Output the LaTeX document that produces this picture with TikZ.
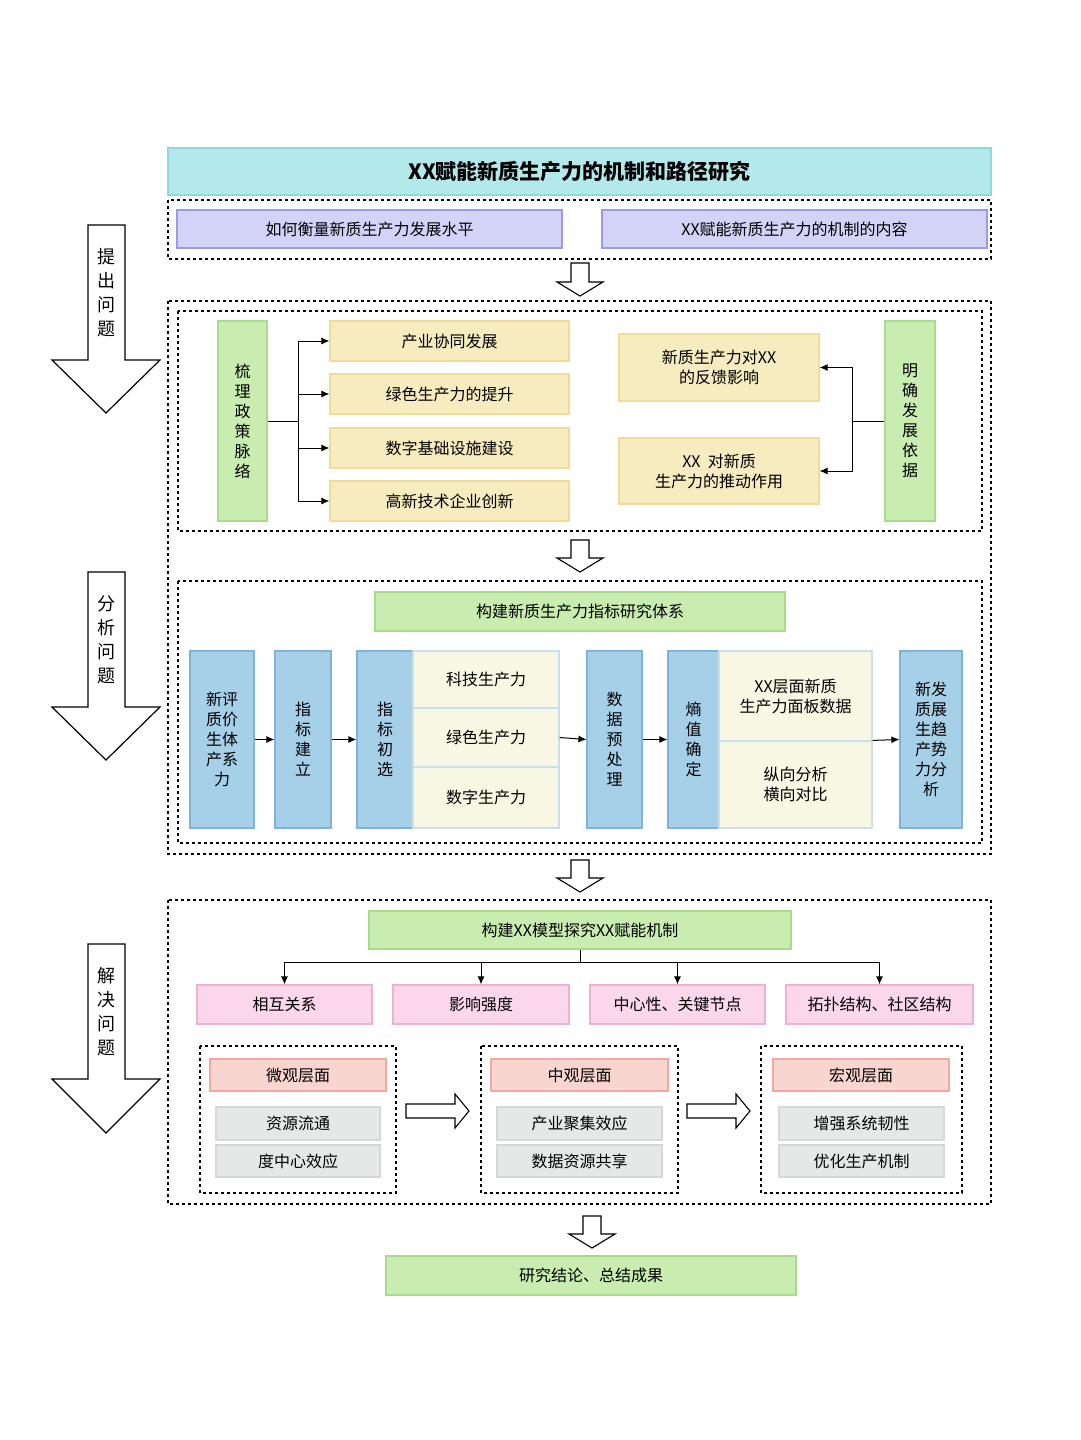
\documentclass[tikz,border=0pt]{standalone}
\usepackage{fontspec}
\newfontfamily\cjk{Noto Sans CJK SC}
\usetikzlibrary{arrows.meta}
\usetikzlibrary{positioning}

\definecolor{cyanf}{HTML}{B3E9EA}\definecolor{cyand}{HTML}{8FD9DC}
\definecolor{purf}{HTML}{D3D3F7}\definecolor{purd}{HTML}{9A9AE8}
\definecolor{grnf}{HTML}{C9ECB0}\definecolor{grnd}{HTML}{A8DC8A}
\definecolor{yelf}{HTML}{F6ECBF}\definecolor{yeld}{HTML}{EDDD99}
\definecolor{bluf}{HTML}{A6CFE8}\definecolor{blud}{HTML}{7FB3D9}
\definecolor{crmf}{HTML}{F8F7E4}\definecolor{crmd}{HTML}{C9DFF0}
\definecolor{pnkf}{HTML}{FAD7EA}\definecolor{pnkd}{HTML}{EEB0D3}
\definecolor{salf}{HTML}{F9D5D0}\definecolor{sald}{HTML}{F0A8A0}
\definecolor{gryf}{HTML}{E6E8E8}\definecolor{gryd}{HTML}{D6D8D8}

\tikzset{
  box/.style={draw, line width=1.2pt, inner sep=0pt, align=center, font=\cjk\fontsize{16}{20}\selectfont},
  dbox/.style={draw, dashed, line width=1.2pt},
  link/.style={line width=1pt, -{Latex[length=8pt,width=7pt]}},
  hollow/.style={draw, fill=white, line width=1.1pt}
}
% box from corner to corner, named at its centre
\newcommand\bx[7]{\node[box, #2, minimum width={(#5-#3)*1pt}, minimum height={(#6-#4)*1pt}] (#1) at ({(#3+#5)/2},{(#4+#6)/2}) {#7};}
% hollow arrow pointing down: x, top, bottom
\newcommand\hdown[3]{\draw[hollow] (#1-9,#2) -- (#1+9,#2) -- (#1+9,#3-14) -- (#1+23,#3-14) -- (#1,#3) -- (#1-23,#3-14) -- (#1-9,#3-14) -- cycle;}
% big side arrow: top, head start, tip, text
\newcommand\bigdown[4]{\draw[hollow, line width=1.2pt] (88,#1) -- (125,#1) -- (125,#2) -- (160,#2) -- (106,#3) -- (52,#2) -- (88,#2) -- cycle;
  \node[font=\cjk\fontsize{18}{24}\selectfont, align=center] at (106,{#1+68}) {#4};}
% hollow arrow pointing right: left, right, y
\newcommand\hright[3]{\draw[hollow] (#1,#3-7) -- (#2-14,#3-7) -- (#2-14,#3-17) -- (#2,#3) -- (#2-14,#3+17) -- (#2-14,#3+7) -- (#1,#3+7) -- cycle;}

\begin{document}
\begin{tikzpicture}[x=1pt, y=-1pt]
\useasboundingbox (0,0) rectangle (1080,1440);

% title part
\bx{title}{fill=cyanf, draw=cyand, font=\cjk\bfseries\fontsize{21}{24}\selectfont}{168}{148}{991}{195}{XX赋能新质生产力的机制和路径研究}
\draw[dbox] (168,200) rectangle (991,259);
\bx{qa}{fill=purf, draw=purd}{177}{210}{562}{248}{如何衡量新质生产力发展水平}
\bx{qb}{fill=purf, draw=purd}{602}{210}{987}{248}{XX赋能新质生产力的机制的内容}
\hdown{580}{263}{296}

% analysis part
\draw[dbox] (168,301) rectangle (991,854);
\draw[dbox] (178,311) rectangle (982,531);
\bx{sl}{fill=grnf, draw=grnd}{218}{321}{267}{521}{梳\\理\\政\\策\\脉\\络}
\bx{y1}{fill=yelf, draw=yeld}{330}{321}{569}{361}{产业协同发展}
\bx{y2}{fill=yelf, draw=yeld}{330}{374}{569}{414}{绿色生产力的提升}
\bx{y3}{fill=yelf, draw=yeld}{330}{428}{569}{468}{数字基础设施建设}
\bx{y4}{fill=yelf, draw=yeld}{330}{481}{569}{521}{高新技术企业创新}
\bx{r1}{fill=yelf, draw=yeld}{619}{334}{819}{401}{新质生产力对XX\\的反馈影响}
\bx{r2}{fill=yelf, draw=yeld}{619}{438}{819}{504}{XX\ \ 对新质\\生产力的推动作用}
\bx{mq}{fill=grnf, draw=grnd}{885}{321}{935}{521}{明\\确\\发\\展\\依\\据}
\coordinate (sj) at (298,421);
\draw[line width=1pt] (sl.east) -- (sj);
\foreach \t in {y1,y2,y3,y4} \draw[link] (sj) |- (\t.west);
\coordinate (mj) at (852,421);
\draw[line width=1pt] (mq.west) -- (mj);
\foreach \t in {r1,r2} \draw[link] (mj) |- (\t.east);
\hdown{580}{540}{572}

\draw[dbox] (178,581) rectangle (982,843);
\bx{zb}{fill=grnf, draw=grnd}{375}{592}{785}{631}{构建新质生产力指标研究体系}
\bx{b1}{fill=bluf, draw=blud}{190}{651}{254}{828}{新评\\质价\\生体\\产系\\力}
\bx{b2}{fill=bluf, draw=blud}{275}{651}{331}{828}{指\\标\\建\\立}
\bx{b3}{fill=bluf, draw=blud}{357}{651}{413}{828}{指\\标\\初\\选}
\bx{c1}{fill=crmf, draw=crmd}{413}{651}{559}{708}{科技生产力}
\bx{c2}{fill=crmf, draw=crmd}{413}{708}{559}{767}{绿色生产力}
\bx{c3}{fill=crmf, draw=crmd}{413}{767}{559}{828}{数字生产力}
\bx{b4}{fill=bluf, draw=blud}{587}{651}{642}{828}{数\\据\\预\\处\\理}
\bx{b5}{fill=bluf, draw=blud}{668}{651}{719}{828}{熵\\值\\确\\定}
\bx{d1}{fill=crmf, draw=crmd}{719}{651}{872}{741}{XX层面新质\\生产力面板数据}
\bx{d2}{fill=crmf, draw=crmd}{719}{741}{872}{828}{纵向分析\\横向对比}
\bx{b6}{fill=bluf, draw=blud}{900}{651}{962}{828}{新发\\质展\\生趋\\产势\\力分\\析}
\draw[link] (b1) -- (b2);
\draw[link] (b2) -- (b3);
\draw[link] (c2.east) -- (b4.west);
\draw[link] (b4) -- (b5);
\draw[link] (d2.north east) -- (b6.west);
\hdown{580}{860}{892}

% solution part
\draw[dbox] (168,900) rectangle (991,1204);
\bx{mx}{fill=grnf, draw=grnd}{369}{911}{791}{949}{构建XX模型探究XX赋能机制}
\bx{p1}{fill=pnkf, draw=pnkd}{197}{985}{372}{1024}{相互关系}
\bx{p2}{fill=pnkf, draw=pnkd}{393}{985}{569}{1024}{影响强度}
\bx{p3}{fill=pnkf, draw=pnkd}{590}{985}{765}{1024}{中心性、关键节点}
\bx{p4}{fill=pnkf, draw=pnkd}{786}{985}{973}{1024}{拓扑结构、社区结构}
\coordinate (mxj) at (580,962);
\draw[line width=1pt] (mx.south) -- (mxj);
\draw[line width=1pt] (285,962) -- (879,962);
\foreach \t in {p1,p2,p3,p4} \draw[link] (\t.north |- mxj) -- (\t.north);

\draw[dbox] (200,1046) rectangle (396,1193);
\draw[dbox] (481,1046) rectangle (678,1193);
\draw[dbox] (761,1046) rectangle (962,1193);
\bx{h1}{fill=salf, draw=sald}{210}{1059}{386}{1091}{微观层面}
\bx{h2}{fill=salf, draw=sald}{491}{1059}{668}{1091}{中观层面}
\bx{h3}{fill=salf, draw=sald}{773}{1059}{949}{1091}{宏观层面}
\bx{g1}{fill=gryf, draw=gryd}{216}{1107}{380}{1140}{资源流通}
\bx{g2}{fill=gryf, draw=gryd}{216}{1145}{380}{1177}{度中心效应}
\bx{g3}{fill=gryf, draw=gryd}{497}{1107}{662}{1140}{产业聚集效应}
\bx{g4}{fill=gryf, draw=gryd}{497}{1145}{662}{1177}{数据资源共享}
\bx{g5}{fill=gryf, draw=gryd}{779}{1107}{944}{1140}{增强系统韧性}
\bx{g6}{fill=gryf, draw=gryd}{779}{1145}{944}{1177}{优化生产机制}
\hright{406}{469}{1111}
\hright{687}{750}{1111}
\hdown{592}{1216}{1248}
\bx{jl}{fill=grnf, draw=grnd}{386}{1256}{796}{1295}{研究结论、总结成果}

% side arrows
\bigdown{225}{360}{413}{提\\出\\问\\题}
\bigdown{572}{707}{760}{分\\析\\问\\题}
\bigdown{944}{1079}{1133}{解\\决\\问\\题}
\end{tikzpicture}
\end{document}
